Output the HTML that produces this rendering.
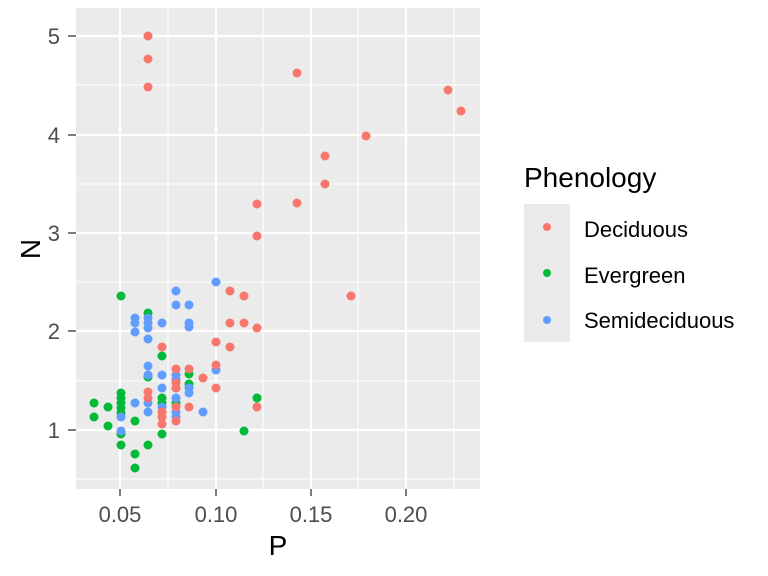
<!DOCTYPE html>
<html><head><meta charset="utf-8"><style>body{margin:0;background:#fff}svg{display:block;font-family:"Liberation Sans",sans-serif}</style></head><body>
<svg width="768" height="576" xmlns="http://www.w3.org/2000/svg">
<rect x="76" y="8" width="404" height="481" fill="#EBEBEB"/>
<g stroke="#fff" stroke-width="1.1">
<line x1="168" x2="168" y1="8" y2="489"/><line x1="263" x2="263" y1="8" y2="489"/><line x1="358" x2="358" y1="8" y2="489"/><line x1="454" x2="454" y1="8" y2="489"/>
<line x1="76" x2="480" y1="479" y2="479"/><line x1="76" x2="480" y1="381" y2="381"/><line x1="76" x2="480" y1="282" y2="282"/><line x1="76" x2="480" y1="184" y2="184"/><line x1="76" x2="480" y1="85" y2="85"/>
</g>
<g stroke="#fff" stroke-width="2.2">
<line x1="120" x2="120" y1="8" y2="489"/><line x1="216" x2="216" y1="8" y2="489"/><line x1="311" x2="311" y1="8" y2="489"/><line x1="406" x2="406" y1="8" y2="489"/>
<line x1="76" x2="480" y1="430" y2="430"/><line x1="76" x2="480" y1="331" y2="331"/><line x1="76" x2="480" y1="233" y2="233"/><line x1="76" x2="480" y1="135" y2="135"/><line x1="76" x2="480" y1="36" y2="36"/>
</g>
<g stroke="#333" stroke-width="1.3">
<line x1="120" x2="120" y1="489" y2="496"/><line x1="216" x2="216" y1="489" y2="496"/><line x1="311" x2="311" y1="489" y2="496"/><line x1="406" x2="406" y1="489" y2="496"/>
<line x1="68" x2="76" y1="430" y2="430"/><line x1="68" x2="76" y1="331" y2="331"/><line x1="68" x2="76" y1="233" y2="233"/><line x1="68" x2="76" y1="135" y2="135"/><line x1="68" x2="76" y1="36" y2="36"/>
</g>
<g fill="#4D4D4D" font-size="22" text-anchor="middle">
<text x="120" y="522">0.05</text><text x="216" y="522">0.10</text><text x="311" y="522">0.15</text><text x="406" y="522">0.20</text>
</g>
<g fill="#4D4D4D" font-size="22" text-anchor="end">
<text x="60" y="438">1</text><text x="60" y="339">2</text><text x="60" y="241">3</text><text x="60" y="143">4</text><text x="60" y="44">5</text>
</g>
<text x="278" y="555" font-size="28" text-anchor="middle">P</text>
<text transform="translate(40,249) rotate(-90)" font-size="28" text-anchor="middle">N</text>
<g fill="#00BA38">
<circle cx="121" cy="296" r="4.5"/><circle cx="148" cy="313" r="4.5"/><circle cx="162" cy="356" r="4.5"/><circle cx="189" cy="374" r="4.5"/><circle cx="189" cy="384" r="4.5"/><circle cx="148" cy="377" r="4.5"/>
<circle cx="121" cy="393" r="4.5"/><circle cx="121" cy="398" r="4.5"/><circle cx="121" cy="403" r="4.5"/><circle cx="121" cy="408" r="4.5"/><circle cx="121" cy="413" r="4.5"/>
<circle cx="94" cy="403" r="4.5"/><circle cx="94" cy="417" r="4.5"/><circle cx="108" cy="407" r="4.5"/><circle cx="108" cy="426" r="4.5"/><circle cx="135" cy="421" r="4.5"/>
<circle cx="162" cy="398" r="4.5"/><circle cx="162" cy="403" r="4.5"/><circle cx="121" cy="434" r="4.5"/><circle cx="121" cy="445" r="4.5"/><circle cx="148" cy="445" r="4.5"/><circle cx="135" cy="454" r="4.5"/><circle cx="135" cy="468" r="4.5"/>
<circle cx="162" cy="434" r="4.5"/><circle cx="257" cy="398" r="4.5"/><circle cx="244" cy="431" r="4.5"/><circle cx="176" cy="403" r="4.5"/>
</g>
<g fill="#619CFF">
<circle cx="216" cy="282" r="4.5"/><circle cx="176" cy="291" r="4.5"/><circle cx="176" cy="305" r="4.5"/><circle cx="189" cy="305" r="4.5"/>
<circle cx="135" cy="318" r="4.5"/><circle cx="135" cy="323" r="4.5"/><circle cx="135" cy="332" r="4.5"/><circle cx="148" cy="318" r="4.5"/><circle cx="148" cy="323" r="4.5"/><circle cx="148" cy="328" r="4.5"/>
<circle cx="162" cy="323" r="4.5"/><circle cx="189" cy="323" r="4.5"/><circle cx="189" cy="327" r="4.5"/><circle cx="148" cy="339" r="4.5"/>
<circle cx="148" cy="366" r="4.5"/><circle cx="148" cy="375" r="4.5"/><circle cx="162" cy="375" r="4.5"/><circle cx="176" cy="375" r="4.5"/><circle cx="176" cy="380" r="4.5"/>
<circle cx="162" cy="388" r="4.5"/><circle cx="176" cy="388" r="4.5"/><circle cx="176" cy="398" r="4.5"/><circle cx="189" cy="388" r="4.5"/><circle cx="189" cy="393" r="4.5"/>
<circle cx="216" cy="370" r="4.5"/><circle cx="135" cy="403" r="4.5"/><circle cx="148" cy="403" r="4.5"/><circle cx="148" cy="412" r="4.5"/>
<circle cx="176" cy="412" r="4.5"/><circle cx="176" cy="417" r="4.5"/><circle cx="203" cy="412" r="4.5"/><circle cx="121" cy="417" r="4.5"/><circle cx="121" cy="431" r="4.5"/><circle cx="162" cy="407" r="4.5"/>
</g>
<g fill="#F8766D">
<circle cx="230" cy="291" r="4.5"/><circle cx="244" cy="296" r="4.5"/><circle cx="230" cy="323" r="4.5"/><circle cx="244" cy="323" r="4.5"/><circle cx="257" cy="328" r="4.5"/>
<circle cx="216" cy="342" r="4.5"/><circle cx="230" cy="347" r="4.5"/><circle cx="162" cy="347" r="4.5"/><circle cx="216" cy="365" r="4.5"/>
<circle cx="176" cy="369" r="4.5"/><circle cx="189" cy="369" r="4.5"/><circle cx="203" cy="378" r="4.5"/><circle cx="216" cy="388" r="4.5"/>
<circle cx="176" cy="383" r="4.5"/><circle cx="176" cy="388" r="4.5"/><circle cx="148" cy="392" r="4.5"/><circle cx="148" cy="398" r="4.5"/>
<circle cx="162" cy="412" r="4.5"/><circle cx="162" cy="417" r="4.5"/><circle cx="162" cy="424" r="4.5"/><circle cx="176" cy="407" r="4.5"/><circle cx="176" cy="421" r="4.5"/><circle cx="189" cy="407" r="4.5"/><circle cx="257" cy="407" r="4.5"/>
<circle cx="148" cy="36" r="4.5"/><circle cx="148" cy="59" r="4.5"/><circle cx="148" cy="87" r="4.5"/><circle cx="297" cy="73" r="4.5"/><circle cx="297" cy="203" r="4.5"/>
<circle cx="325" cy="156" r="4.5"/><circle cx="325" cy="184" r="4.5"/><circle cx="366" cy="136" r="4.5"/><circle cx="448" cy="90" r="4.5"/><circle cx="461" cy="111" r="4.5"/>
<circle cx="257" cy="204" r="4.5"/><circle cx="257" cy="236" r="4.5"/><circle cx="351" cy="296" r="4.5"/>
</g>
<text x="524" y="187" font-size="28">Phenology</text>
<rect x="524" y="204" width="46" height="138" fill="#EBEBEB"/>
<circle cx="547" cy="227" r="4" fill="#F8766D"/><circle cx="547" cy="273" r="4" fill="#00BA38"/><circle cx="547" cy="320" r="4" fill="#619CFF"/>
<g font-size="22"><text x="584" y="237">Deciduous</text><text x="584" y="283">Evergreen</text><text x="584" y="328">Semideciduous</text></g>
</svg>
</body></html>
